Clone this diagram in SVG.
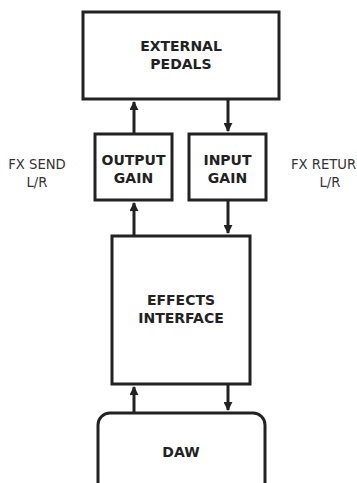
<svg xmlns="http://www.w3.org/2000/svg" width="357" height="483" viewBox="0 0 357 483">
<style>
.box{fill:#fff;stroke:#222;stroke-width:3}
.lbl{font-family:"DejaVu Sans",Verdana,sans-serif;font-weight:bold;font-size:14px;fill:#222;text-anchor:middle}
.side{font-family:"DejaVu Sans",Verdana,sans-serif;font-size:13.2px;fill:#333;text-anchor:middle}
.wire{stroke:#222;stroke-width:3;fill:none}
</style>
<defs>
<marker id="ah" viewBox="0 0 10 10" refX="9" refY="5" markerWidth="3" markerHeight="3" orient="auto" markerUnits="strokeWidth">
<path d="M0,0 L10,5 L0,10 z" fill="#222"/>
</marker>
</defs>
<rect width="357" height="483" fill="#fff"/>
<g id="connectors">
<line class="wire" x1="134" y1="134" x2="134" y2="102" marker-end="url(#ah)"/>
<line class="wire" x1="228" y1="99" x2="228" y2="131" marker-end="url(#ah)"/>
<line class="wire" x1="134" y1="236" x2="134" y2="203" marker-end="url(#ah)"/>
<line class="wire" x1="228" y1="200" x2="228" y2="233" marker-end="url(#ah)"/>
<line class="wire" x1="134" y1="413" x2="134" y2="387" marker-end="url(#ah)"/>
<line class="wire" x1="228" y1="384" x2="228" y2="410" marker-end="url(#ah)"/>
</g>
<g id="external-pedals">
<rect class="box" x="83" y="12" width="196" height="87"/>
<text class="lbl" x="181" y="51">EXTERNAL</text>
<text class="lbl" x="181" y="69">PEDALS</text>
</g>
<g id="output-gain">
<rect class="box" x="95" y="134" width="77" height="66"/>
<text class="lbl" x="133.5" y="165">OUTPUT</text>
<text class="lbl" x="133.5" y="183">GAIN</text>
</g>
<g id="input-gain">
<rect class="box" x="189" y="134" width="77" height="66"/>
<text class="lbl" x="227.5" y="165">INPUT</text>
<text class="lbl" x="227.5" y="183">GAIN</text>
</g>
<g id="fx-send">
<text class="side" x="37" y="169">FX SEND</text>
<text class="side" x="37" y="187">L/R</text>
</g>
<g id="fx-return">
<text class="side" x="291" y="169" style="text-anchor:start">FX RETUR</text>
<text class="side" x="330" y="187">L/R</text>
</g>
<g id="effects-interface">
<rect class="box" x="112" y="236" width="138" height="148"/>
<text class="lbl" x="181" y="305">EFFECTS</text>
<text class="lbl" x="181" y="323">INTERFACE</text>
</g>
<g id="daw">
<rect class="box" x="98" y="413" width="167" height="90" rx="12" ry="12"/>
<text class="lbl" x="181" y="457">DAW</text>
</g>
</svg>
